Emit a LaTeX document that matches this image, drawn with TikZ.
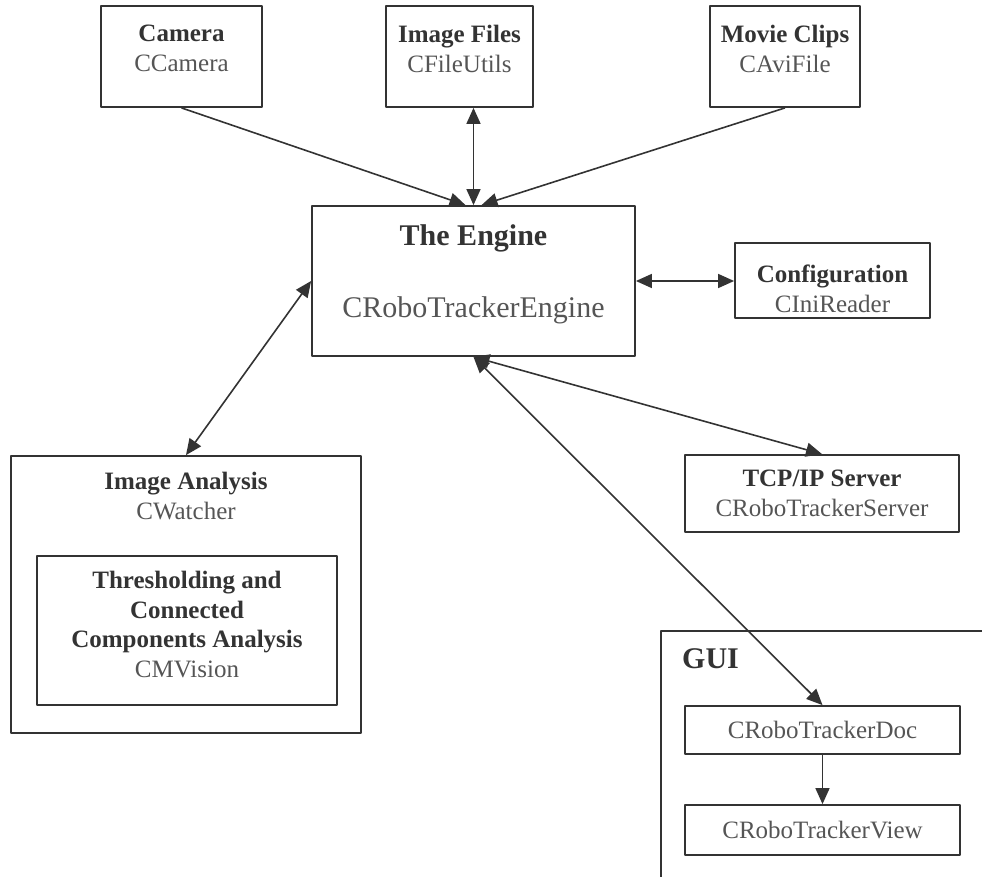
\documentclass[tikz,border=0pt]{standalone}
\usepackage{fontspec}
\setmainfont{Liberation Serif}
\usetikzlibrary{arrows.meta}
\definecolor{linec}{HTML}{333333}
\definecolor{titlec}{HTML}{333333}
\definecolor{classc}{HTML}{555555}
\newcommand{\ttl}[1]{{\bfseries\color{titlec}#1}}
\begin{document}
\begin{tikzpicture}[x=1pt, y=-1pt, line join=round,
	>={Triangle[length=16pt,width=14pt]},
	box/.style={draw=linec, line width=1.8pt, inner sep=0pt},
	lbl/.style={anchor=north, inner sep=0pt, align=center, text=classc, font=\fontsize{25}{29.5}\selectfont},
	link/.style={draw=linec, line width=1.6pt}]
	\useasboundingbox (0,0) rectangle (982,877);
	% sources on top
	\node[box, minimum width=161, minimum height=101] (camera) at (181.5,56.5) {};
	\node[lbl] (camera-t) at ([yshift=-20pt]camera.north) {\ttl{Camera}\\CCamera};
	\node[box, minimum width=147, minimum height=101] (imgfiles) at (459.5,56.5) {};
	\node[lbl] (imgfiles-t) at ([yshift=-20pt]imgfiles.north) {\ttl{Image Files}\\CFileUtils};
	\node[box, minimum width=150, minimum height=101] (movie) at (785,56.5) {};
	\node[lbl] (movie-t) at ([yshift=-20pt]movie.north) {\ttl{Movie Clips}\\CAviFile};
	% engine and its helpers
	\node[box, minimum width=323, minimum height=150] (engine) at (473.5,281) {};
	\node[lbl, font=\fontsize{30}{36}\selectfont] (engine-t) at ([yshift=-19pt]engine.north) {\ttl{The Engine}\\[36pt]CRoboTrackerEngine};
	\node[box, minimum width=195, minimum height=75] (config) at (832.5,280.5) {};
	\node[lbl] (config-t) at ([yshift=-23pt]config.north) {\ttl{Configuration}\\CIniReader};
	\node[box, minimum width=274, minimum height=77] (tcp) at (822,493.5) {};
	\node[lbl] (tcp-t) at ([yshift=-16pt]tcp.north) {\ttl{TCP/IP Server}\\CRoboTrackerServer};
	% image analysis
	\node[box, minimum width=350, minimum height=277] (imgana) at (186,594.5) {};
	\node[lbl] (imgana-t) at ([yshift=-17pt]imgana.north) {\ttl{Image Analysis}\\CWatcher};
	\node[box, minimum width=300, minimum height=149] (thresh) at (187,630.5) {};
	\node[lbl] (thresh-t) at ([yshift=-16pt]thresh.north) {\ttl{Thresholding and}\\\ttl{Connected}\\\ttl{Components Analysis}\\CMVision};
	% gui
	\node[box, anchor=north west, minimum width=340, minimum height=260] (gui) at (660,630) {};
	\node[anchor=north west, inner sep=0pt, text=titlec, font=\fontsize{30}{36}\selectfont\bfseries] (gui-t) at ([xshift=22pt,yshift=-18pt]gui.north west) {GUI};
	\node[box, minimum width=275, minimum height=48, text=classc, font=\fontsize{25}{29.5}\selectfont] (doc) at (822.5,730) {CRoboTrackerDoc};
	\node[box, minimum width=275, minimum height=50, text=classc, font=\fontsize{25}{29.5}\selectfont] (view) at (822.5,830) {CRoboTrackerView};
	% connectors
	\draw[link,->] (camera.south) -- ([xshift=-8pt]engine.north);
	\draw[link,<->] (engine.north |- imgfiles.south) -- (engine.north);
	\draw[link,->] (movie.south) -- ([xshift=8pt]engine.north);
	\draw[link,<->] (engine.east) -- (engine.east -| config.west);
	\draw[link,<->] (engine.west) -- (imgana.north);
	\draw[link,<->] (engine.south) -- (tcp.north);
	\draw[link,<->] (engine.south) -- (doc.north);
	\draw[link,->] (doc.south) -- (view.north);
\end{tikzpicture}
\end{document}
